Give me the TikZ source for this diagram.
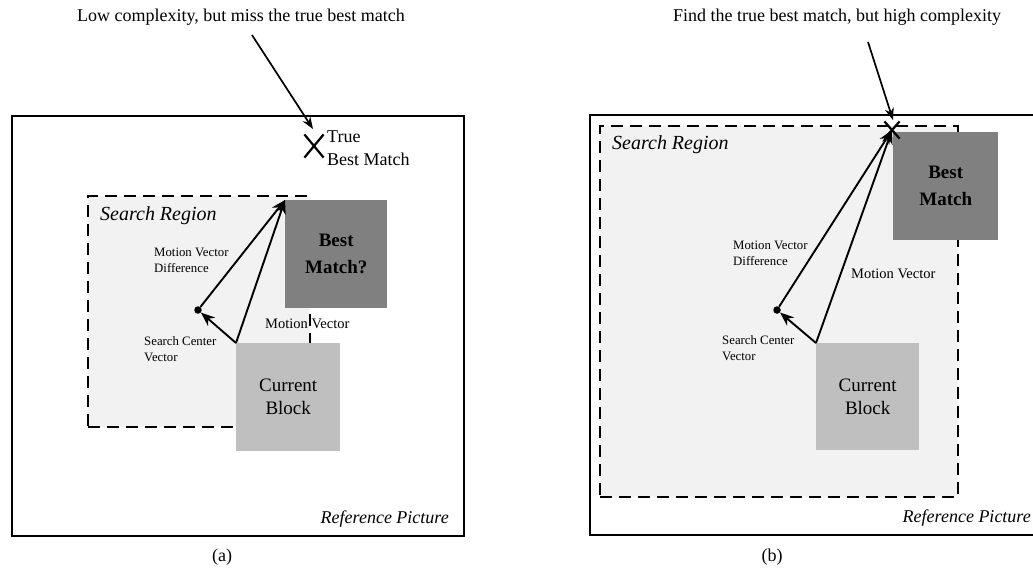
\documentclass[tikz,border=0pt]{standalone}
\usepackage{fontspec}
\setmainfont{Liberation Serif}
\usetikzlibrary{arrows.meta,shapes.misc}
\definecolor{regfill}{HTML}{F2F2F2}
\definecolor{bmgray}{HTML}{808080}
\definecolor{cbgray}{HTML}{BFBFBF}
\tikzset{
  outerframe/.style={draw, line width=2pt, fill=white},
  region/.style={draw, dash pattern=on 12pt off 7pt, line width=2pt, fill=regfill, anchor=north west, inner sep=0pt},
  bmbox/.style={fill=bmgray, anchor=north west, inner sep=0pt, align=center, font=\fontsize{19}{27}\selectfont\bfseries},
  cbbox/.style={fill=cbgray, anchor=north west, inner sep=0pt, align=center, font=\fontsize{19}{23}\selectfont},
  vec/.style={-{Stealth[length=14pt,width=11pt]}, line width=1.9pt},
  pointer/.style={-{Stealth[length=12pt,width=9pt]}, line width=1.7pt},
  caption/.style={font=\fontsize{18}{22}\selectfont, inner sep=0pt},
  small/.style={font=\fontsize{12.8}{16}\selectfont, align=left, anchor=west, inner sep=0pt},
  mid/.style={font=\fontsize{14.5}{17}\selectfont, anchor=west, inner sep=0pt},
  regionlabel/.style={font=\fontsize{20}{24}\selectfont\itshape, anchor=west, inner sep=0pt},
  reflabel/.style={font=\fontsize{18}{22}\selectfont\itshape, anchor=east, inner sep=0pt},
  dotmark/.style={circle, fill=black, inner sep=0pt, minimum size=7.5pt},
  xmark/.style={cross out, draw, inner sep=0pt, line width=2.2pt}
}
\begin{document}
\begin{tikzpicture}[x=1pt,y=-1pt]
\useasboundingbox (0,0) rectangle (1033,571);
% ---------------- panel (a) ----------------
\node[outerframe, anchor=north west, minimum width=452pt, minimum height=420pt, inner sep=0pt] (refa) at (11,115) {};
\node[region, minimum width=222pt, minimum height=231pt] (sra) at (87,195) {};
\node[regionlabel] (srla) at (100,216) {Search Region};
\node[bmbox, minimum width=102pt, minimum height=108pt] (bma) at (285,200) {Best\\Match?};
\node[cbbox, minimum width=104pt, minimum height=108pt] (cba) at (236,343) {Current\\Block};
\node[dotmark] (dota) at (198,310) {};
\node[xmark, minimum width=17pt, minimum height=21pt] (xa) at (314,146) {};
\node[font=\fontsize{18}{23}\selectfont, align=left, anchor=west, inner sep=0pt] (tbma) at (327,148.5) {True\\Best Match};
\node[caption] (capa) at (241,17) {Low complexity, but miss the true best match};
\coordinate (capastart) at (252,35);
\coordinate (xatop) at (313,129);
\draw[pointer] (capastart) -- (xatop);
\draw[vec] (cba.north west) -- (dota);
\draw[vec] (cba.north west) -- (bma.north west);
\draw[vec] (dota) -- (bma.north west);
\node[small] (mvda) at (154,260) {Motion Vector\\Difference};
\node[small] (scva) at (144,349) {Search Center\\Vector};
\node[mid] (mva) at (265,324) {Motion Vector};
\node[reflabel] (rpa) at (449,519) {Reference Picture};
\node[caption] (la) at (222,557) {(a)};
% ---------------- panel (b) ----------------
\coordinate (rbtr) at (1040,115);
\coordinate (rbtl) at (590,115);
\coordinate (rbbl) at (590,535);
\coordinate (rbbr) at (1040,535);
\draw[line width=2pt] (rbtr) -- (rbtl) -- (rbbl) -- (rbbr);
\node[region, minimum width=358pt, minimum height=371pt] (srb) at (599,125) {};
\node[regionlabel] (srlb) at (612,145) {Search Region};
\node[bmbox, minimum width=105pt, minimum height=108pt] (bmb) at (893,132) {Best\\Match};
\node[cbbox, minimum width=103pt, minimum height=107pt] (cbb) at (816,343) {Current\\Block};
\node[dotmark] (dotb) at (777,310) {};
\node[xmark, minimum width=13pt, minimum height=15pt] (xb) at (892,130) {};
\node[caption] (capb) at (837,17) {Find the true best match, but high complexity};
\coordinate (capbstart) at (868,42);
\coordinate (xbtop) at (893,120);
\draw[pointer] (capbstart) -- (xbtop);
\draw[vec] (cbb.north west) -- (dotb);
\draw[vec] (cbb.north west) -- (xb.center);
\draw[vec] (dotb) -- (xb.center);
\node[small] (mvdb) at (733,253) {Motion Vector\\Difference};
\node[small] (scvb) at (722,348) {Search Center\\Vector};
\node[mid] (mvb) at (851,274) {Motion Vector};
\node[reflabel] (rpb) at (1031,518) {Reference Picture};
\node[caption] (lb) at (772,557) {(b)};
\end{tikzpicture}
\end{document}
